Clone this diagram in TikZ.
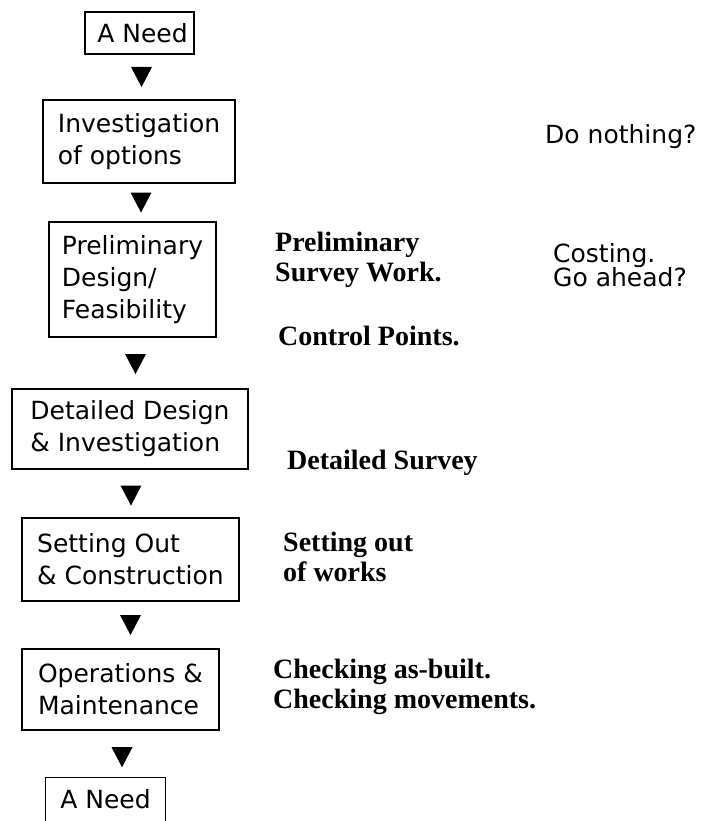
\documentclass[tikz,border=0pt]{standalone}
\usepackage{fontspec}
\usetikzlibrary{calc}
\newfontfamily\boxfont{DejaVu Sans}
\newfontfamily\notefont{Liberation Serif}
\tikzset{
  stage/.style={draw, line width=1.2pt, inner sep=0pt, align=left,
    font=\boxfont\fontsize{25}{32}\selectfont},
  openstage/.style={inner sep=0pt, align=left,
    font=\boxfont\fontsize{25}{32}\selectfont},
  sansnote/.style={inner sep=0pt, anchor=north west, align=left,
    font=\boxfont\fontsize{25}{24.5}\selectfont},
  serifnote/.style={inner sep=0pt, anchor=north west, align=left,
    font=\notefont\bfseries\fontsize{28}{30}\selectfont},
  boxline/.style={line width=1.2pt}
}
\newcommand{\downtri}[1]{\fill ([xshift=-10.5pt,yshift=10pt]#1) -- ([xshift=10.5pt,yshift=10pt]#1) -- ([yshift=-10pt]#1) -- cycle;}
\begin{document}
\begin{tikzpicture}[x=1pt,y=-1pt]
\useasboundingbox[fill=white] (0,0) rectangle (704,821);

% boxes
\node[stage, minimum width=109pt, minimum height=42pt] (need1) at (139.5,33) {\hspace*{6pt}A Need};
\node[stage, minimum width=192pt, minimum height=83pt] (inv) at (139,141.5) {Investigation\\of options};
\node[stage, minimum width=167pt, minimum height=115pt] (prelim) at (132.5,279.5) {Preliminary\\Design/\\Feasibility};
\node[stage, minimum width=236pt, minimum height=80pt] (detail) at (130,429) {Detailed Design\\\& Investigation};
\node[stage, minimum width=217pt, minimum height=83pt] (setting) at (130.5,559.5) {Setting Out\\\& Construction};
\node[stage, minimum width=197pt, minimum height=81pt] (ops) at (120.5,689.5) {Operations \&\\Maintenance};
\node[openstage, minimum width=119pt, minimum height=42pt] (need2) at (105.5,799) {A Need};
\draw[boxline] ([yshift=-12pt]need2.south west) -- (need2.north west) -- (need2.north east) -- ([yshift=-12pt]need2.south east);

% arrowheads between stages
\coordinate (m1) at ($(need1.south)!0.5!(inv.north)$);
\coordinate (m2) at ($(inv.south)!0.5!(prelim.north)$);
\coordinate (m3) at ($(prelim.south)!0.5!(detail.north)$);
\coordinate (m4) at ($(detail.south)!0.5!(setting.north)$);
\coordinate (m5) at ($(setting.south)!0.5!(ops.north)$);
\coordinate (m6) at ($(ops.south)!0.5!(need2.north)$);
\path (m1 -| need1.south) ++(2,0) coordinate (t1);
\path (m2 -| inv.south) ++(2,0) coordinate (t2);
\path (m3 -| prelim.south) ++(3,1) coordinate (t3);
\path (m4 -| detail.south) ++(1,2) coordinate (t4);
\path (m5 -| setting.south) ++(0,0) coordinate (t5);
\path (m6 -| ops.south) ++(1.5,3) coordinate (t6);
\downtri{t1}
\downtri{t2}
\downtri{t3}
\downtri{t4}
\downtri{t5}
\downtri{t6}

% notes
\node[sansnote] (donothing) at (545,124) {Do nothing?};
\node[sansnote] (costing) at (553,243) {Costing.\\Go ahead?};
\node[serifnote] (prelsurvey) at (275,232) {Preliminary\\Survey Work.};
\node[serifnote] (control) at (278,326) {Control Points.};
\node[serifnote] (detsurvey) at (287,450) {Detailed Survey};
\node[serifnote] (setout) at (283,532) {Setting out\\of works};
\node[serifnote] (checking) at (273,659) {Checking as-built.\\Checking movements.};
\end{tikzpicture}
\end{document}
